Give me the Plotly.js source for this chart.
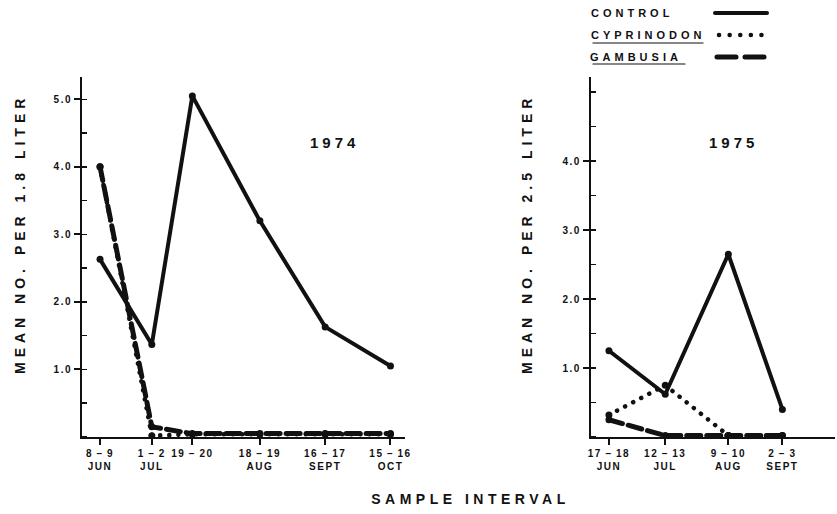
<!DOCTYPE html>
<html>
<head>
<meta charset="utf-8">
<script src="https://cdn.plot.ly/plotly-3.0.1.min.js"></script>
<style>
html,body{margin:0;padding:0;background:#fff;}
#chart{width:837px;height:514px;}
.main-svg text{letter-spacing:1.5px !important;}
g.annotation[data-index="0"] text, g.annotation[data-index="7"] text{letter-spacing:4px !important;}
g.annotation[data-index="1"] text{letter-spacing:4.5px !important;}
g.annotation[data-index="2"] text, g.annotation[data-index="3"] text{letter-spacing:5px !important;}
g.annotation[data-index="4"] text, g.annotation[data-index="5"] text, g.annotation[data-index="6"] text{letter-spacing:4px !important;}
.js-line{stroke-linecap:round;}
.shapelayer path{stroke-linecap:round;}
</style>
</head>
<body>
<div id="chart"></div>
<script>
// ---- data ----
// sample positions: days after 31 May
const labels1974 = ["8\u2009–\u20099<br>JUN", "1\u2009–\u20092<br>JUL", "19\u2009–\u200920", "18\u2009–\u200919<br>AUG", "16\u2009–\u200917<br>SEPT", "15\u2009–\u200916<br>OCT"];
const days1974 = [7.5, 30.5, 48.5, 78.5, 107.5, 136.5];
const control1974 = [2.63, 1.37, 5.05, 3.2, 1.63, 1.05];
const cyprinodon1974 = [4.0, 0.02, 0.04, 0.04, 0.04, 0.04];
const gambusia1974 = [4.0, 0.15, 0.05, 0.05, 0.05, 0.05];

const labels1975 = ["17\u2009–\u200918<br>JUN", "12\u2009–\u200913<br>JUL", "9\u2009–\u200910<br>AUG", "2\u2009–\u20093<br>SEPT"];
const days1975 = [17.5, 42.5, 70.5, 94.5];
const control1975 = [1.25, 0.62, 2.65, 0.4];
const cyprinodon1975 = [0.32, 0.75, 0.02, 0.02];
const gambusia1975 = [0.25, 0.02, 0.02, 0.02];

const yTicks1974 = [1, 2, 3, 4, 5];
const yTicks1975 = [1, 2, 3, 4];
const seriesNames = ["CONTROL", "CYPRINODON", "GAMBUSIA"];

// ---- styles ----
const black = "#111";
const styles = {
  control: {width: 4, dash: "solid"},
  cyprinodon: {width: 4.5, dash: "0.1px,9px"},
  gambusia: {width: 5, dash: "14px,6px"}
};
function tr(x, y, name, xa, ya) {
  return {
    x: x, y: y, xaxis: xa, yaxis: ya, type: "scatter", mode: "lines+markers",
    line: {color: black, width: styles[name].width, dash: styles[name].dash},
    marker: {color: black, size: 7},
    showlegend: false, hoverinfo: "skip", cliponaxis: false
  };
}
const data = [
  tr(days1974, control1974, "control", "x", "y"),
  tr(days1974, gambusia1974, "gambusia", "x", "y"),
  tr(days1974, cyprinodon1974, "cyprinodon", "x", "y"),
  tr(days1975, control1975, "control", "x2", "y2"),
  tr(days1975, gambusia1975, "gambusia", "x2", "y2"),
  tr(days1975, cyprinodon1975, "cyprinodon", "x2", "y2")
];

const tickFont = {family: "Liberation Sans, Arial, sans-serif", size: 10, color: black, weight: "bold"};
function xax(domain, range, vals, text) {
  return {
    domain: domain, range: range, tickvals: vals, ticktext: text,
    showgrid: false, zeroline: false, showline: true, linecolor: black, linewidth: 2,
    ticks: "outside", ticklen: 6, tickwidth: 2, tickcolor: black,
    tickfont: tickFont, fixedrange: true
  };
}
function yax(range, vals, anchor) {
  return {
    domain: [0, 1], range: range, anchor: anchor,
    tickvals: vals, ticktext: vals.map(v => v.toFixed(1)),
    showgrid: false, zeroline: false, showline: true, linecolor: black, linewidth: 2,
    ticks: "outside", ticklen: 6, tickwidth: 2, tickcolor: black,
    minor: {dtick: 0.5, ticks: "inside", ticklen: 5, tickwidth: 1.5, tickcolor: black, showgrid: false},
    tickfont: tickFont, fixedrange: true
  };
}

const titleFont = {family: "Liberation Sans, Arial, sans-serif", color: black, weight: "bold"};
function py(px) { return 1 - (px - 77) / 360; }
function pxx(px) { return px / 837; }
function ann(text, x, y, size, extra) {
  return Object.assign({text: text, x: pxx(x), y: py(y), xref: "paper", yref: "paper", showarrow: false,
    xanchor: "center", yanchor: "middle", font: Object.assign({size: size}, titleFont)}, extra || {});
}

const layout = {
  width: 837, height: 514,
  margin: {l: 0, r: 0, t: 77, b: 77},
  paper_bgcolor: "#fff", plot_bgcolor: "#fff",
  xaxis: Object.assign(xax([0.098, 0.484], [-0.5, 143], days1974, labels1974), {anchor: "y"}),
  yaxis: yax([0, 5.33], yTicks1974, "x"),
  xaxis2: Object.assign(xax([0.706, 0.998], [9.5, 118], days1975, labels1975), {anchor: "y2"}),
  yaxis2: yax([0, 5.22], yTicks1975, "x2"),
  annotations: [
    ann("1974", 335, 142, 15),
    ann("SAMPLE INTERVAL", 470, 499, 14),
    ann("MEAN NO. PER 1.8 LITER", 20, 234, 14, {textangle: -90}),
    ann("MEAN NO. PER 2.5 LITER", 527, 234, 14, {textangle: -90}),
    ann(seriesNames[0], 632, 13, 11),
    ann(seriesNames[1], 648, 35, 11),
    ann(seriesNames[2], 636, 57, 11),
    ann("1975", 733, 142, 15)
  ],
  shapes: [
    {type: "line", xref: "paper", yref: "paper", x0: pxx(715), x1: pxx(767), y0: py(13), y1: py(13),
     line: {color: black, width: 4}},
    {type: "line", xref: "paper", yref: "paper", x0: pxx(719), x1: pxx(764), y0: py(35), y1: py(35),
     line: {color: black, width: 4.5, dash: "0.1px,10.5px"}},
    {type: "line", xref: "paper", yref: "paper", x0: pxx(717), x1: pxx(766), y0: py(57), y1: py(57),
     line: {color: black, width: 5, dash: "19px,9px"}},
    {type: "line", xref: "paper", yref: "paper", x0: pxx(593), x1: pxx(703), y0: py(43), y1: py(43),
     line: {color: black, width: 1.2}},
    {type: "line", xref: "paper", yref: "paper", x0: pxx(593), x1: pxx(685), y0: py(64), y1: py(64),
     line: {color: black, width: 1.2}}
  ]
};

Plotly.newPlot("chart", data, layout, {staticPlot: true, displayModeBar: false});
</script>
</body>
</html>
